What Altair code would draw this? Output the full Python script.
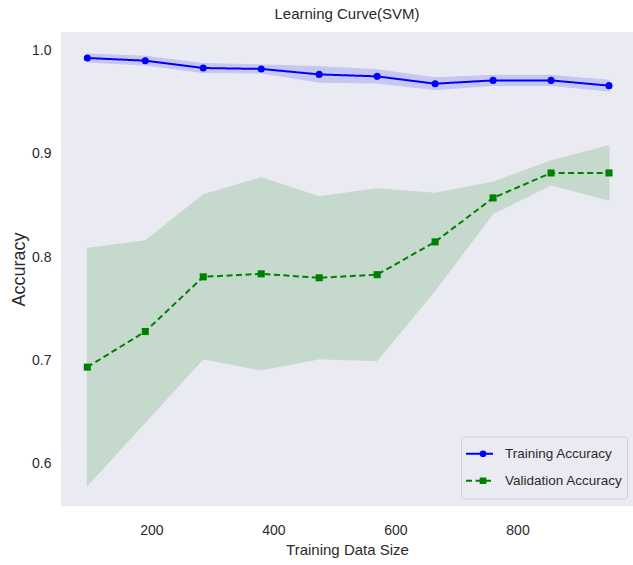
import altair as alt
import pandas as pd

# ---- data ----
train_sizes = [95, 190, 285, 380, 475, 570, 665, 760, 855, 950]
train_mean = [0.9929, 0.9903, 0.9832, 0.9823, 0.9770, 0.9751, 0.9680, 0.9712, 0.9712, 0.9661]
train_std = [0.0039, 0.0043, 0.0044, 0.0039, 0.0075, 0.0065, 0.0057, 0.0049, 0.0049, 0.0052]
val_mean = [0.6933, 0.7278, 0.7808, 0.7837, 0.7799, 0.7829, 0.8147, 0.8573, 0.8815, 0.8815]
val_std = [0.1150, 0.0880, 0.0796, 0.0932, 0.0786, 0.0833, 0.0471, 0.0153, 0.0117, 0.0265]
series_names = ["Training Accuracy", "Validation Accuracy"]
marker_names = ["training marker", "validation marker"]
series_colors = ["#0000FF", "#008000"]
x_ticks = [200, 400, 600, 800]
y_ticks = [0.6, 0.7, 0.8, 0.9, 1.0]

rows = []
for name, mk, means, stds in [(series_names[0], marker_names[0], train_mean, train_std),
                              (series_names[1], marker_names[1], val_mean, val_std)]:
    for s, m, sd in zip(train_sizes, means, stds):
        rows.append({"size": s, "series": name, "marker": mk,
                     "mean": m, "lower": m - sd, "upper": m + sd})
df = pd.DataFrame(rows)

FONT = "'Liberation Sans', Arial, sans-serif"
TXT = "#2a2a2a"

xs = alt.Scale(domain=[51.9, 989.3], nice=False, zero=False)
ys = alt.Scale(domain=[0.5587, 1.0181], nice=False, zero=False)

x_enc = alt.X("size:Q", scale=xs,
              axis=alt.Axis(values=x_ticks, title="Training Data Size", grid=False,
                            ticks=False, domain=False, labelFontSize=14, labelColor=TXT,
                            labelFont=FONT, labelPadding=17, titleFont=FONT,
                            titleFontSize=15, titleFontWeight="normal", titleColor=TXT,
                            titlePadding=5))
y_axis = alt.Axis(values=y_ticks, format=".1f", title="Accuracy", grid=False, ticks=False,
                  domain=False, labelFontSize=14, labelColor=TXT, labelFont=FONT,
                  labelPadding=10, titleFont=FONT, titleFontSize=18,
                  titleFontWeight="normal", titleColor=TXT, titlePadding=3)

base = alt.Chart(df)

bands = []
for name, col in zip(series_names, series_colors):
    bands.append(
        base.transform_filter(alt.datum.series == name)
        .mark_area(color=col, opacity=0.15, stroke=col, strokeWidth=1)
        .encode(x=x_enc, y=alt.Y("lower:Q", scale=ys, axis=y_axis), y2="upper:Q")
    )

LX, LY = 400, 404.4

leg1 = alt.Legend(title=None, orient="none", legendX=LX, legendY=LY,
                  symbolType="stroke", symbolSize=729, symbolStrokeWidth=2,
                  strokeColor="#cfcfd8", cornerRadius=3, padding=4,
                  clipHeight=26.7, rowPadding=0, labelOffset=11,
                  labelFont=FONT, labelFontSize=13.5, labelColor=TXT)

leg2 = alt.Legend(title=None, orient="none", legendX=LX, legendY=LY,
                  symbolSize=45, symbolStrokeWidth=0, symbolOffset=11.3, padding=4,
                  clipHeight=26.7, rowPadding=0, labelExpr="''",
                  labelFont=FONT, labelFontSize=13.5)

lines = base.mark_line(strokeWidth=2).encode(
    x=x_enc,
    y=alt.Y("mean:Q", scale=ys, axis=y_axis),
    color=alt.Color("series:N", scale=alt.Scale(domain=series_names, range=series_colors),
                    legend=leg1),
    strokeDash=alt.StrokeDash("series:N",
                              scale=alt.Scale(domain=series_names, range=[[1, 0], [6, 3.5]]),
                              legend=leg1),
)

points = base.mark_point(filled=True, opacity=1, size=50).encode(
    x=x_enc,
    y=alt.Y("mean:Q", scale=ys, axis=y_axis),
    shape=alt.Shape("marker:N", scale=alt.Scale(domain=marker_names, range=["circle", "square"]),
                    legend=leg2),
    fill=alt.Fill("marker:N", scale=alt.Scale(domain=marker_names, range=series_colors),
                  legend=leg2),
)

chart = alt.layer(*bands, lines, points).properties(
    width=572, height=474,
    title=alt.TitleParams("Learning Curve(SVM)", font=FONT, fontSize=15,
                          fontWeight="normal", color=TXT, anchor="middle",
                          baseline="alphabetic", offset=0, dy=2),
    autosize=alt.AutoSizeParams(type="none"),
    padding={"left": 61, "top": 32, "right": 0, "bottom": 59},
    background="white",
).configure(font=FONT).configure_view(
    fill="#EAEAF2", stroke=None
)

chart.save("out.html", embed_options={"renderer": "svg", "actions": False})
